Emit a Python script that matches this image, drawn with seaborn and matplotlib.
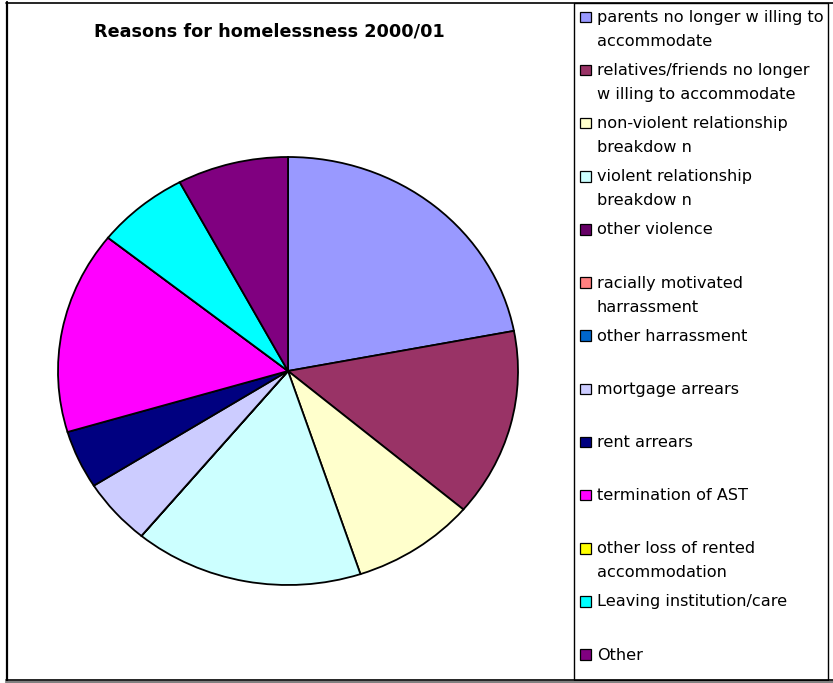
import matplotlib
matplotlib.use("Agg")
import matplotlib.pyplot as plt
from matplotlib.patches import Rectangle
from matplotlib.lines import Line2D
import seaborn as sns

# Reasons for homelessness, share of cases (%) in 2000/01
reasons = [
    "parents no longer w illing to\naccommodate",
    "relatives/friends no longer\nw illing to accommodate",
    "non-violent relationship\nbreakdow n",
    "violent relationship\nbreakdow n",
    "other violence",
    "racially motivated\nharrassment",
    "other harrassment",
    "mortgage arrears",
    "rent arrears",
    "termination of AST",
    "other loss of rented\naccommodation",
    "Leaving institution/care",
    "Other",
]
shares = [22.0, 14.2, 8.7, 16.1, 0.0, 0.0, 0.0, 5.0, 4.4, 15.3, 0.0, 6.5, 7.8]
slice_colors = [
    "#9999FF", "#993366", "#FFFFCC", "#CCFFFF", "#660066", "#FF8080", "#0066CC",
    "#CCCCFF", "#000080", "#FF00FF", "#FFFF00", "#00FFFF", "#800080",
]
title = "Reasons for homelessness 2000/01"

sns.set_style("white")
plt.rcParams["font.family"] = ["DejaVu Sans"]
palette = sns.color_palette(slice_colors)

W, H = 833, 683
fig = plt.figure(figsize=(W / 100, H / 100), dpi=100)
fig.patch.set_facecolor("white")


def fx(x):
    return x / W


def fy(y):
    return 1 - y / H


# Pie area (slightly wider than tall)
left, right, top, bottom = 58, 518, 157, 585
ax = fig.add_axes([fx(left), fy(bottom), (right - left) / W, (bottom - top) / H])
ax.pie(
    shares,
    colors=palette,
    startangle=90,
    counterclock=False,
    radius=1.0,
    wedgeprops=dict(edgecolor="black", linewidth=1.3),
)
ax.set_aspect("auto")
ax.set_xlim(-1, 1)
ax.set_ylim(-1, 1)
ax.axis("off")

# Title
fig.text(fx(269.5), fy(31), title, ha="center", va="center",
         fontsize=12.7, fontweight="bold", color="black")

# Chart frame with shadow on the bottom edge
fig.add_artist(Line2D([fx(6.5), fx(6.5)], [fy(2), fy(681)], color="black", lw=1.6))
fig.add_artist(Line2D([fx(6), fx(840)], [fy(2.5), fy(2.5)], color="black", lw=1.2))
fig.add_artist(Line2D([fx(6), fx(840)], [fy(681.5), fy(681.5)], color="#808080", lw=1.6))
fig.add_artist(Line2D([fx(6), fx(840)], [fy(680.3), fy(680.3)], color="black", lw=1.2))

# Legend box
fig.add_artist(Rectangle((fx(573.5), fy(680)), (828 - 573.5) / W, (680 - 2.5) / H,
                         facecolor="none", edgecolor="black", lw=1.0))

# Legend entries
first_y, step = 16.8, 53.15
sq = 10.5
for i, (lab, col) in enumerate(zip(reasons, palette)):
    yc = first_y + i * step
    fig.add_artist(Rectangle((fx(580), fy(yc + sq / 2)), sq / W, sq / H,
                             facecolor=col, edgecolor="black", lw=0.9))
    fig.text(fx(597), fy(yc - 7), lab, ha="left", va="top",
             fontsize=11.6, linespacing=1.76, color="black")

fig.savefig("out.png", dpi=100, facecolor="white")
